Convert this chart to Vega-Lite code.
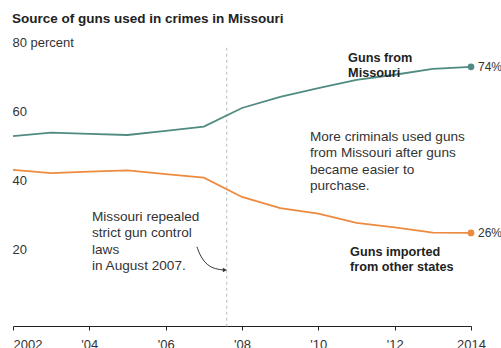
{
  "$schema": "https://vega.github.io/schema/vega-lite/v6.json",
  "width": 458,
  "height": 277,
  "autosize": {"type": "none"},
  "padding": {"left": 13, "top": 46, "right": 30, "bottom": 25},
  "background": "white",
  "title": {"text": "Source of guns used in crimes in Missouri", "anchor": "start", "frame": "group", "font": "Liberation Sans", "fontSize": 13.5, "fontWeight": "bold", "color": "#222", "offset": 11, "dx": -1},
  "config": {"view": {"stroke": null}, "font": "Liberation Sans"},
  "datasets": {
    "series": [
      {"year": 2002, "value": 54.0, "series": "Guns from Missouri"},
      {"year": 2003, "value": 55.0, "series": "Guns from Missouri"},
      {"year": 2004, "value": 54.6, "series": "Guns from Missouri"},
      {"year": 2005, "value": 54.3, "series": "Guns from Missouri"},
      {"year": 2006, "value": 55.5, "series": "Guns from Missouri"},
      {"year": 2007, "value": 56.7, "series": "Guns from Missouri"},
      {"year": 2008, "value": 62.1, "series": "Guns from Missouri"},
      {"year": 2009, "value": 65.3, "series": "Guns from Missouri"},
      {"year": 2010, "value": 67.8, "series": "Guns from Missouri"},
      {"year": 2011, "value": 70.2, "series": "Guns from Missouri"},
      {"year": 2012, "value": 71.7, "series": "Guns from Missouri"},
      {"year": 2013, "value": 73.4, "series": "Guns from Missouri"},
      {"year": 2014, "value": 74.0, "series": "Guns from Missouri"},
      {"year": 2002, "value": 44.2, "series": "Guns imported"},
      {"year": 2003, "value": 43.3, "series": "Guns imported"},
      {"year": 2004, "value": 43.7, "series": "Guns imported"},
      {"year": 2005, "value": 44.1, "series": "Guns imported"},
      {"year": 2006, "value": 43.0, "series": "Guns imported"},
      {"year": 2007, "value": 42.0, "series": "Guns imported"},
      {"year": 2008, "value": 36.4, "series": "Guns imported"},
      {"year": 2009, "value": 33.2, "series": "Guns imported"},
      {"year": 2010, "value": 31.6, "series": "Guns imported"},
      {"year": 2011, "value": 28.9, "series": "Guns imported"},
      {"year": 2012, "value": 27.6, "series": "Guns imported"},
      {"year": 2013, "value": 26.1, "series": "Guns imported"},
      {"year": 2014, "value": 26.0, "series": "Guns imported"}
    ],
    "ends": [
      {"year": 2014, "value": 74, "series": "Guns from Missouri", "label": "74%"},
      {"year": 2014, "value": 26, "series": "Guns imported", "label": "26%"}
    ],
    "bold": [
      {"x": 2010.78, "y": 75.4, "text": "Guns from\nMissouri"},
      {"x": 2010.83, "y": 19.4, "text": "Guns imported\nfrom other states"}
    ],
    "notes": [
      {"x": 2009.78, "y": 52.6, "text": "More criminals used guns\nfrom Missouri after guns\nbecame easier to\npurchase."},
      {"x": 2004.07, "y": 29.6, "text": "Missouri repealed\nstrict gun control\nlaws\nin August 2007."}
    ],
    "arrow": [
      {"x": 2006.82, "y": 22.0, "o": 1},
      {"x": 2006.92, "y": 19.0, "o": 2},
      {"x": 2007.1, "y": 16.6, "o": 3},
      {"x": 2007.3, "y": 15.6, "o": 4},
      {"x": 2007.52, "y": 15.3, "o": 5}
    ],
    "head": [{"x": 2007.55, "y": 15.3}],
    "law": [{"x": 2007.6, "y": 79.5, "y2": -1}]
  },
  "layer": [
    {
      "data": {"name": "law"},
      "mark": {"type": "rule", "color": "#bbbbbb", "strokeDash": [3, 3], "strokeWidth": 1},
      "encoding": {
        "x": {"field": "x", "type": "quantitative", "scale": {"domain": [2002, 2014], "nice": false, "zero": false}},
        "y": {"field": "y", "type": "quantitative", "scale": {"domain": [0, 80], "nice": false}},
        "y2": {"field": "y2"}
      }
    },
    {
      "data": {"name": "series"},
      "mark": {"type": "line", "strokeWidth": 1.8},
      "encoding": {
        "x": {"field": "year", "type": "quantitative",
          "axis": {"values": [2002, 2004, 2006, 2008, 2010, 2012, 2014], "title": null, "grid": false, "offset": 3, "domainColor": "#222", "tickColor": "#222", "tickSize": 4, "labelPadding": 8, "labelFontSize": 13, "labelColor": "#333", "labelFlush": false,
            "labelAlign": {"condition": {"test": "datum.value == 2002", "value": "left"}, "value": "center"},
            "labelExpr": "datum.value == 2002 || datum.value == 2014 ? format(datum.value, 'd') : \"'\" + substring(format(datum.value, 'd'), 2, 4)"}},
        "y": {"field": "value", "type": "quantitative",
          "axis": {"values": [20, 40, 60, 80], "title": null, "grid": false, "domain": false, "ticks": false, "labelAlign": "left", "labelBaseline": "alphabetic", "labelPadding": 1, "labelFontSize": 13, "labelColor": "#333",
            "labelExpr": "datum.value == 80 ? '80 percent' : datum.label"}},
        "color": {"field": "series", "type": "nominal", "legend": null, "scale": {"domain": ["Guns from Missouri", "Guns imported"], "range": ["#508b82", "#ee8a3e"]}}
      }
    },
    {
      "data": {"name": "ends"},
      "mark": {"type": "circle", "size": 45, "opacity": 1},
      "encoding": {
        "x": {"field": "year", "type": "quantitative"},
        "y": {"field": "value", "type": "quantitative"},
        "color": {"field": "series", "type": "nominal", "legend": null}
      }
    },
    {
      "data": {"name": "ends"},
      "mark": {"type": "text", "align": "left", "dx": 7, "fontSize": 12, "color": "#333"},
      "encoding": {
        "x": {"field": "year", "type": "quantitative"},
        "y": {"field": "value", "type": "quantitative"},
        "text": {"field": "label"}
      }
    },
    {
      "data": {"name": "bold"},
      "mark": {"type": "text", "align": "left", "baseline": "alphabetic", "fontSize": 12.7, "fontWeight": "bold", "color": "#222", "lineBreak": "\n", "lineHeight": 15},
      "encoding": {
        "x": {"field": "x", "type": "quantitative"},
        "y": {"field": "y", "type": "quantitative"},
        "text": {"field": "text"}
      }
    },
    {
      "data": {"name": "notes"},
      "mark": {"type": "text", "align": "left", "baseline": "alphabetic", "fontSize": 13.6, "color": "#333", "lineBreak": "\n", "lineHeight": 16.5},
      "encoding": {
        "x": {"field": "x", "type": "quantitative"},
        "y": {"field": "y", "type": "quantitative"},
        "text": {"field": "text"}
      }
    },
    {
      "data": {"name": "arrow"},
      "mark": {"type": "line", "interpolate": "basis", "color": "#333", "strokeWidth": 1},
      "encoding": {
        "x": {"field": "x", "type": "quantitative"},
        "y": {"field": "y", "type": "quantitative"},
        "order": {"field": "o"}
      }
    },
    {
      "data": {"name": "head"},
      "mark": {"type": "point", "shape": "triangle-right", "filled": true, "size": 22, "color": "#333", "opacity": 1},
      "encoding": {
        "x": {"field": "x", "type": "quantitative"},
        "y": {"field": "y", "type": "quantitative"}
      }
    }
  ]
}
